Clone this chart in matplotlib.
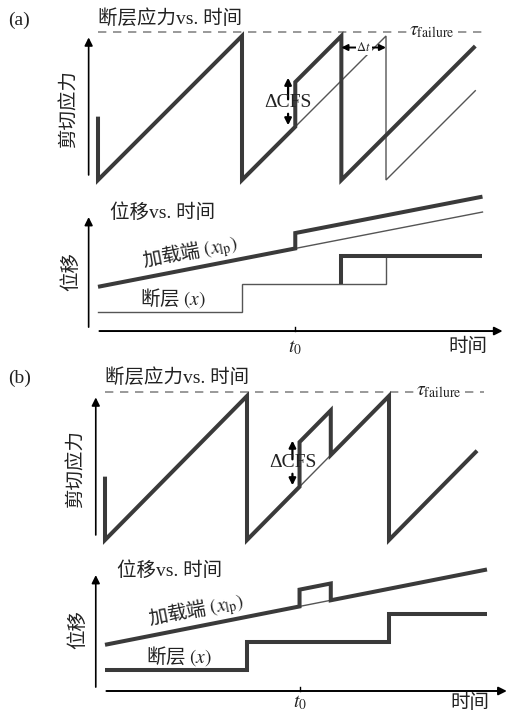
import matplotlib
matplotlib.use("Agg")
import matplotlib.pyplot as plt

plt.rcParams['font.family'] = ['Liberation Serif', 'Noto Sans CJK SC', 'DejaVu Sans']
plt.rcParams['mathtext.fontset'] = 'stix'

# ---- schematic values (time in loading cycles, stress in units of tau_failure) ----
t0 = 1.37
tau_line = 1.03

# (a) clock advance
stress_a_t = [0, 0, 1, 1, t0, t0, 1.69, 1.69, 2.62]
stress_a_s = [0.44, 0, 1, 0, 0.37, 0.68, 1, 0, 0.93]
stress_a_ref_t = [t0, 2, 2, 2.62]
stress_a_ref_s = [0.37, 1, 0, 0.62]

load_a_t = [0, t0, t0, 2.67]
load_a_d = [0.9, 2.27, 2.82, 4.12]
load_a_ref_t = [t0, 2.67]
load_a_ref_d = [2.27, 3.57]
fault_a_t = [1.69, 1.69, 2.67]
fault_a_d = [1, 2, 2]
fault_a_ref_t = [0, 1, 1, 2, 2]
fault_a_ref_d = [0, 0, 1, 1, 2]

# (b) transient perturbation, no clock advance
stress_b_t = [0, 0, 1, 1, t0, t0, 1.59, 1.59, 2, 2, 2.62]
stress_b_s = [0.44, 0, 1, 0, 0.37, 0.68, 0.90, 0.59, 1, 0, 0.62]
stress_b_ref_t = [t0, 1.59]
stress_b_ref_s = [0.37, 0.59]

load_b_t = [0, t0, t0, 1.59, 1.59, 2.69]
load_b_d = [0.9, 2.27, 2.87, 3.09, 2.49, 3.59]
load_b_ref_t = [t0, 1.59]
load_b_ref_d = [2.27, 2.49]
fault_b_t = [0, 1, 1, 2, 2, 2.69]
fault_b_d = [0, 0, 1, 1, 2, 2]

W, H = 508, 713
fig = plt.figure(figsize=(W / 100, H / 100), dpi=100)

DARK = '#3a3a3a'
THIN = '#555555'
TXT = '#222222'
FS = 14
CJK = 'Noto Sans CJK SC'


def panel(top, bottom, x0, y0, sx, sy):
    # axes spanning pixel rows top..bottom; data origin at pixel (x0, y0)
    ax = fig.add_axes([0, 1 - bottom / H, 1, (bottom - top) / H])
    ax.set_xlim(-x0 / sx, (W - x0) / sx)
    ax.set_ylim((y0 - bottom) / sy, (y0 - top) / sy)
    ax.axis('off')
    return ax


def arrow(ax, tail, head, lw=1.2, ms=12, style='-|>', color='k'):
    ax.annotate('', xy=head, xytext=tail, annotation_clip=False,
                arrowprops=dict(arrowstyle=style, lw=lw, color=color,
                                mutation_scale=ms, shrinkA=0, shrinkB=0))


def thick(ax, x, y):
    ax.plot(x, y, color=DARK, lw=2.9, solid_joinstyle='miter', solid_capstyle='butt', clip_on=False)


def thin(ax, x, y):
    ax.plot(x, y, color=THIN, lw=1.0, solid_joinstyle='miter', clip_on=False)


def stress_panel(ax, t_vals, s_vals, ref_t, ref_s, tx, label_top):
    ax.plot([0, 2.67], [tau_line, tau_line], color='#888888', lw=1.2, dashes=(5, 4))
    ax.text(tx, tau_line, r'$\tau_{\rm failure}$', fontsize=FS, color=TXT, ha='center', va='center',
            bbox=dict(facecolor='white', edgecolor='none', pad=1))
    ax.text(0, label_top, '断层应力vs. 时间', fontsize=FS, color=TXT, ha='left', va='center')
    arrow(ax, (-0.065, 0.035), (-0.065, 0.99))
    ax.text(-0.2, 0.49, '剪切应力', fontsize=FS, color=TXT, rotation=90, ha='center', va='center')
    thin(ax, ref_t, ref_s)
    thick(ax, t_vals, s_vals)


def disp_panel(ax, xaxis_d, x_end, lab_d):
    ax.text(0.085, 3.55, '位移vs. 时间', fontsize=FS, color=TXT, ha='left', va='center')
    arrow(ax, (-0.065, xaxis_d + 0.14), (-0.065, 3.39))
    arrow(ax, (0.01, xaxis_d), (x_end, xaxis_d), lw=1.4)
    ax.plot([t0, t0], [xaxis_d, xaxis_d + 0.14], color='k', lw=1)
    ax.text(-0.19, 1.43, '位移', fontsize=FS, color=TXT, rotation=90, ha='center', va='center')
    ax.text(0.64, 2.12, '加载端 $(x_{\\rm lp})$', fontsize=FS, color=TXT, rotation=11,
            ha='center', va='center', family=CJK)
    ax.text(0.52, 0.5, '断层 $(x)$', fontsize=FS, color=TXT, ha='center', va='center', family=CJK)
    ax.text(t0, lab_d, '$t_0$', fontsize=FS, color=TXT, ha='center', va='center')
    ax.text(2.57, lab_d, '时间', fontsize=FS, color=TXT, ha='center', va='center')


# ---------------- (a) ----------------
fig.text(8 / W, 1 - 20 / H, '(a)', fontsize=FS, color=TXT, ha='left', va='center')
ax1 = panel(0, 190, 98, 180, 144, 144)
stress_panel(ax1, stress_a_t, stress_a_s, stress_a_ref_t, stress_a_ref_s, 2.32, 1.12)
arrow(ax1, (1.32, 0.56), (1.32, 0.71), lw=1.6, ms=10)
arrow(ax1, (1.32, 0.46), (1.32, 0.38), lw=1.6, ms=10)
ax1.text(1.32, 0.535, 'ΔCFS', fontsize=FS, color=TXT, ha='center', va='center')
arrow(ax1, (1.69, 0.92), (2.0, 0.92), lw=1.4, ms=9, style='<|-|>')
ax1.text(1.845, 0.92, r'$\Delta t$', fontsize=9, color=TXT, ha='center', va='center',
         bbox=dict(facecolor='white', edgecolor='none', pad=0.5))

ax2 = panel(190, 360, 98, 312, 144, 28)
disp_panel(ax2, -0.68, 2.81, -1.26)
thin(ax2, load_a_ref_t, load_a_ref_d)
thick(ax2, load_a_t, load_a_d)
thin(ax2, fault_a_ref_t, fault_a_ref_d)
thick(ax2, fault_a_t, fault_a_d)

# ---------------- (b) ----------------
fig.text(8 / W, 1 - 378 / H, '(b)', fontsize=FS, color=TXT, ha='left', va='center')
ax3 = panel(360, 550, 105, 540, 142, 144)
stress_panel(ax3, stress_b_t, stress_b_s, stress_b_ref_t, stress_b_ref_s, 2.35, 1.125)
arrow(ax3, (1.32, 0.56), (1.32, 0.69), lw=1.6, ms=10)
arrow(ax3, (1.32, 0.46), (1.32, 0.38), lw=1.6, ms=10)
ax3.text(1.32, 0.535, 'ΔCFS', fontsize=FS, color=TXT, ha='center', va='center')

ax4 = panel(550, 713, 105, 670, 142, 28)
disp_panel(ax4, -0.75, 2.83, -1.16)
thin(ax4, load_b_ref_t, load_b_ref_d)
thick(ax4, load_b_t, load_b_d)
thick(ax4, fault_b_t, fault_b_d)

fig.savefig('out.png', dpi=100, facecolor='white')
